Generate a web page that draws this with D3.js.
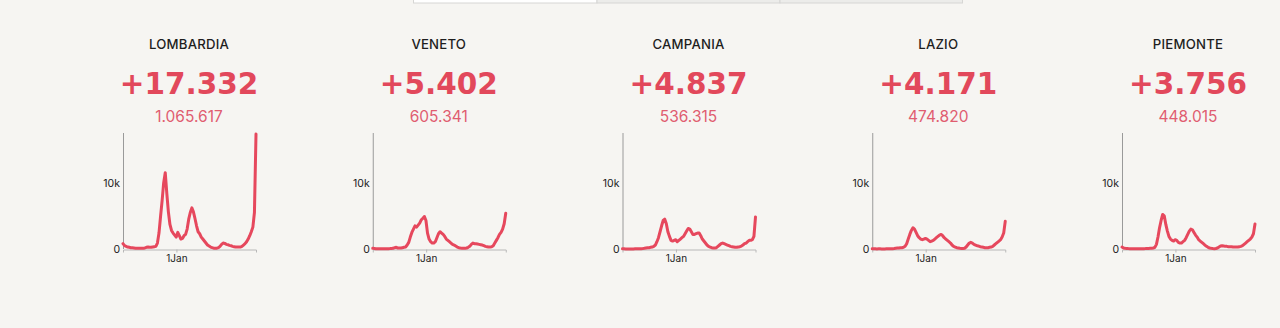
<!DOCTYPE html>
<html>
<head>
<meta charset="utf-8">
<script src="https://cdn.jsdelivr.net/npm/d3@7"></script>
<style>
  html, body { margin: 0; padding: 0; background: #f6f5f2; }
  svg { display: block; }
</style>
</head>
<body>
<svg id="chart" width="1280" height="328"></svg>
<script>
// Regions shown, left to right
const regions = ["LOMBARDIA", "VENETO", "CAMPANIA", "LAZIO", "PIEMONTE"];
// New cases on the latest day and cumulative totals
const latestCases = [17332, 5402, 4837, 4171, 3756];
const totalCases = [1065617, 605341, 536315, 474820, 448015];

// Weekly new cases, one value per week starting 7 May 2020
const firstWeek = new Date(2020, 4, 7);
const lombardia = [800, 500, 400, 300, 250, 200, 180, 150, 120, 100, 100, 110, 120, 130, 160, 250, 300, 250, 250, 300, 350, 400, 900, 2400, 4900, 7300, 10000, 11500, 8400, 5600, 3700, 2800, 2400, 2100, 1800, 2500, 2000, 1500, 1600, 2000, 2200, 3000, 4500, 5500, 6200, 5600, 4600, 3500, 2600, 2300, 1800, 1500, 1200, 900, 600, 450, 300, 200, 120, 100, 120, 200, 400, 700, 900, 850, 700, 650, 550, 500, 400, 350, 300, 300, 300, 300, 400, 600, 800, 1100, 1500, 2000, 2600, 3300, 5500, 17332];
const veneto = [100, 80, 50, 40, 30, 30, 20, 20, 30, 40, 50, 60, 80, 100, 200, 250, 150, 150, 150, 200, 250, 300, 600, 1000, 1800, 2500, 3000, 3500, 3300, 3600, 3900, 4400, 4600, 4900, 4300, 2400, 1500, 1100, 900, 900, 1100, 1700, 2300, 2600, 2400, 2200, 1900, 1500, 1300, 1100, 900, 700, 600, 450, 300, 200, 150, 120, 100, 100, 150, 250, 400, 700, 900, 800, 800, 750, 700, 650, 600, 500, 400, 350, 300, 300, 350, 500, 900, 1300, 1700, 2200, 2500, 3000, 3800, 5402];
const campania = [30, 20, 15, 10, 10, 10, 10, 15, 20, 20, 30, 40, 50, 70, 100, 150, 200, 200, 250, 300, 400, 600, 1100, 1700, 2600, 3500, 4300, 4500, 3800, 2600, 1900, 1300, 1200, 1300, 1400, 1100, 1300, 1500, 1700, 1900, 2300, 2700, 3100, 3000, 2600, 2200, 2200, 2300, 2400, 2400, 2000, 1500, 1200, 900, 600, 400, 300, 200, 150, 150, 200, 400, 600, 800, 900, 800, 700, 600, 500, 400, 350, 300, 250, 250, 300, 350, 450, 600, 800, 900, 1100, 1300, 1300, 1400, 1900, 4837];
const lazio = [40, 30, 20, 15, 20, 20, 15, 15, 15, 20, 20, 30, 40, 50, 80, 120, 150, 150, 200, 200, 250, 400, 800, 1500, 2200, 2800, 3200, 3000, 2500, 2000, 1700, 1500, 1400, 1500, 1600, 1500, 1300, 1100, 1200, 1300, 1500, 1700, 1900, 2100, 2200, 2000, 1700, 1500, 1300, 1100, 900, 600, 400, 300, 200, 150, 100, 80, 80, 120, 300, 600, 900, 1000, 900, 700, 600, 500, 450, 350, 300, 250, 200, 200, 200, 250, 300, 400, 600, 800, 1000, 1200, 1400, 1800, 2400, 4171];
const piemonte = [300, 150, 100, 80, 60, 50, 40, 30, 30, 30, 30, 30, 30, 30, 50, 60, 80, 80, 100, 120, 150, 250, 700, 1800, 3200, 4300, 5200, 5000, 3700, 2700, 1900, 1500, 1300, 1200, 1400, 1300, 1000, 900, 900, 1100, 1300, 1700, 2200, 2700, 3000, 2900, 2500, 2100, 1800, 1400, 1200, 1000, 800, 600, 400, 250, 150, 100, 60, 50, 80, 150, 300, 450, 500, 450, 400, 400, 350, 350, 350, 300, 300, 300, 300, 350, 400, 500, 700, 900, 1100, 1300, 1500, 1800, 2300, 3756];
const series = [lombardia, veneto, campania, lazio, piemonte];

// Axis ticks
const yTicks = [0, 10000];
const yTickLabels = ["0", "10k"];
const xTicks = [new Date(2021, 0, 1)];
const xTickLabels = ["1Jan"];

const RED = "#e6485d";
const itLocale = d3.formatLocale({ decimal: ",", thousands: ".", grouping: [3], currency: ["€", ""] });
const fmt = itLocale.format(",d");

const svg = d3.select("#chart");
svg.append("rect").attr("width", 1280).attr("height", 328).attr("fill", "#f6f5f2");

// Tab strip peeking in at the top edge
const tabs = svg.append("g").attr("class", "tabs");
const tabEdges = [413.5, 597, 780, 962.5];
const tabFills = ["#ffffff", "#ececea", "#ececea"];
tabFills.forEach((f, i) => {
  tabs.append("rect")
    .attr("x", tabEdges[i]).attr("y", -2)
    .attr("width", tabEdges[i + 1] - tabEdges[i]).attr("height", 5)
    .attr("fill", f).attr("stroke", "#d6d6d4").attr("stroke-width", 1);
});

// Shared scales
const dates = lombardia.map((_, i) => d3.timeDay.offset(firstWeek, i * 7));
const chartW = 133;
const x = d3.scaleTime().domain(d3.extent(dates)).range([0, chartW]);
const yMax = d3.max(series, s => d3.max(s));
const y = d3.scaleLinear().domain([0, yMax]).range([249, 134]);

const centerStart = 189, step = 249.75;

regions.forEach((name, r) => {
  const cx = centerStart + r * step;
  const g = svg.append("g");

  g.append("text")
    .attr("x", cx).attr("y", 48.5)
    .attr("text-anchor", "middle")
    .attr("font-family", "Inter, 'Noto Sans', sans-serif")
    .attr("font-weight", 500)
    .attr("font-size", 13.2)
    .attr("letter-spacing", 0.2)
    .attr("fill", "#1e1e1e")
    .text(name);

  g.append("text")
    .attr("x", cx).attr("y", 93.5)
    .attr("text-anchor", "middle")
    .attr("font-family", "'DejaVu Sans', sans-serif")
    .attr("font-weight", 700)
    .attr("font-size", 29.5)
    .attr("fill", "#e2485b")
    .text("+" + fmt(latestCases[r]));

  g.append("text")
    .attr("x", cx).attr("y", 121.5)
    .attr("text-anchor", "middle")
    .attr("font-family", "Inter, 'Noto Sans', sans-serif")
    .attr("font-weight", 400)
    .attr("font-size", 15.5)
    .attr("fill", "#e05d70")
    .text(fmt(totalCases[r]));

  const plot = g.append("g").attr("transform", `translate(${cx - 66},0)`);

  const yAxis = d3.axisLeft(y)
    .tickValues(yTicks)
    .tickFormat((d, i) => yTickLabels[i])
    .tickSize(0).tickPadding(3);
  const ya = plot.append("g").call(yAxis);
  ya.select(".domain").attr("stroke", "#9a9a9a").attr("d", `M0.5,${y.range()[1] - 1}V${y.range()[0]}`);
  ya.selectAll("text")
    .attr("font-family", "Inter, 'Noto Sans', sans-serif")
    .attr("font-size", 10.5).attr("fill", "#222");

  const xAxis = d3.axisBottom(x)
    .tickValues(xTicks)
    .tickFormat((d, i) => xTickLabels[i])
    .tickSize(3).tickSizeOuter(3).tickPadding(2);
  const xa = plot.append("g").attr("transform", `translate(0,${y(0) + 0.5})`).call(xAxis);
  xa.select(".domain").attr("stroke", "#b8b8b8");
  xa.selectAll(".tick line").attr("stroke", "#b8b8b8");
  xa.selectAll("text")
    .attr("font-family", "Inter, 'Noto Sans', sans-serif")
    .attr("font-size", 10).attr("fill", "#222");

  const line = d3.line()
    .x((d, i) => x(dates[i]))
    .y(d => y(d));

  plot.append("path")
    .datum(series[r])
    .attr("d", line)
    .attr("fill", "none")
    .attr("stroke", RED)
    .attr("stroke-width", 3)
    .attr("stroke-linejoin", "round")
    .attr("stroke-linecap", "round");
});
</script>
</body>
</html>
